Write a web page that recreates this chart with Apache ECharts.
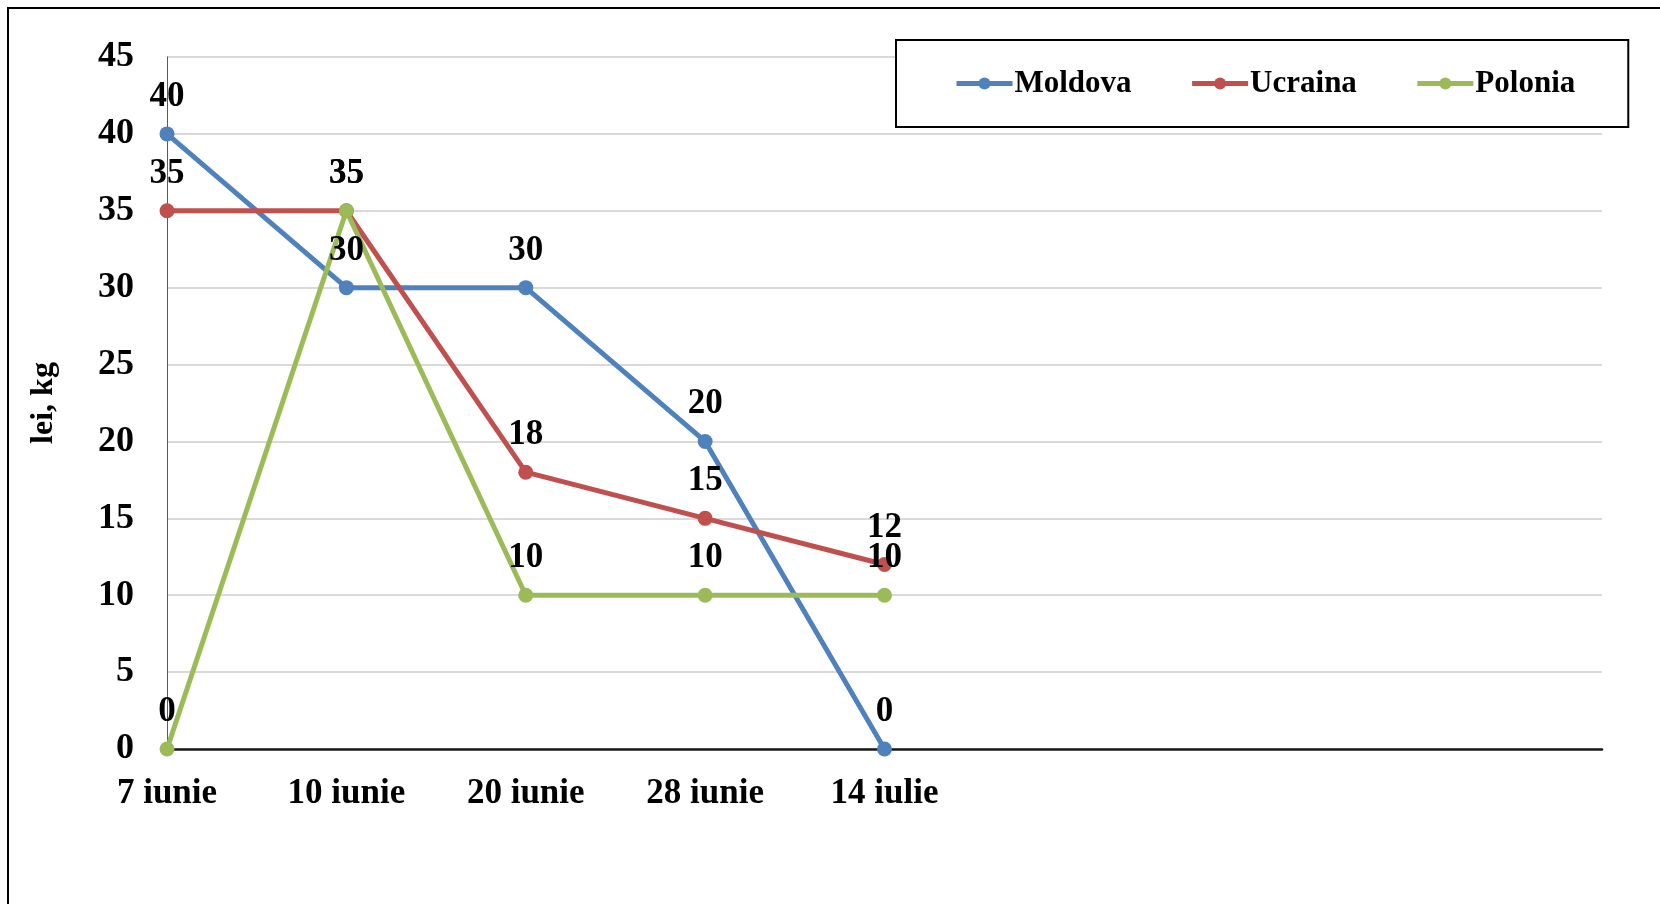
<!DOCTYPE html>
<html>
<head>
<meta charset="utf-8">
<script src="https://cdn.jsdelivr.net/npm/echarts@6/dist/echarts.min.js"></script>
<style>
html,body{margin:0;padding:0;background:#fff;}
#chart{width:1660px;height:904px;}
</style>
</head>
<body>
<div id="chart"></div>
<script>
var categories = ['7 iunie', '10 iunie', '20 iunie', '28 iunie', '14 iulie', '', '', '', ''];
var moldova = [40, 30, 30, 20, 0];
var ucraina = [35, 35, 18, 15, 12];
var polonia = [0, 35, 10, 10, 10];
var yTicks = { min: 0, max: 45, interval: 5 };
var seriesNames = ['Moldova', 'Ucraina', 'Polonia'];
var colors = ['#4F81BD', '#C0504D', '#9BBB59'];

var FONT = '"Liberation Serif", "Times New Roman", serif';
var chart = echarts.init(document.getElementById('chart'), null, {renderer: 'canvas'});

function mkSeries(name, data, color) {
  return {
    name: name,
    type: 'line',
    data: data,
    color: color,
    symbol: 'circle',
    symbolSize: 15,
    lineStyle: { width: 5, color: color },
    itemStyle: { color: color },
    label: {
      show: true,
      position: 'top',
      distance: 12,
      color: '#000',
      fontFamily: FONT,
      fontWeight: 'bold',
      fontSize: 35
    },
    animation: false
  };
}

chart.setOption({
  backgroundColor: '#fff',
  animation: false,
  grid: { left: 167, right: 58, top: 57, bottom: 155, containLabel: false },
  legend: {
    data: seriesNames,
    left: 896,
    top: 40,
    orient: 'horizontal',
    backgroundColor: '#fff',
    borderColor: '#000',
    borderWidth: 2,
    borderRadius: 0,
    padding: [26, 53, 26, 58],
    itemWidth: 56,
    itemHeight: 15,
    itemGap: 58,
    lineStyle: { width: 5 },
    textStyle: { color: '#000', fontFamily: FONT, fontWeight: 'bold', fontSize: 31, lineHeight: 35, padding: [0, 0, 0, -3] },
    z: 10
  },
  xAxis: {
    type: 'category',
    data: categories,
    boundaryGap: false,
    axisLine: { show: true, lineStyle: { color: '#1a1a1a', width: 2.5 } },
    axisTick: { show: false },
    splitLine: { show: false },
    axisLabel: {
      interval: 0,
      margin: 27,
      color: '#000',
      fontFamily: FONT,
      fontWeight: 'bold',
      fontSize: 35
    }
  },
  yAxis: {
    type: 'value',
    min: yTicks.min,
    max: yTicks.max,
    interval: yTicks.interval,
    name: 'lei, kg',
    nameLocation: 'middle',
    nameGap: 107,
    nameRotate: 90,
    nameTextStyle: { color: '#000', fontFamily: FONT, fontWeight: 'bold', fontSize: 32 },
    axisLine: { show: true, lineStyle: { color: '#595959', width: 1 } },
    axisTick: { show: false },
    splitLine: { show: true, lineStyle: { color: '#d9d9d9', width: 2 } },
    axisLabel: {
      margin: 33,
      color: '#000',
      fontFamily: FONT,
      fontWeight: 'bold',
      fontSize: 36
    }
  },
  graphic: [
    { type: 'line', shape: { x1: 7, y1: 8, x2: 1660, y2: 8 }, style: { stroke: '#000', lineWidth: 2 }, z: 100 },
    { type: 'line', shape: { x1: 8, y1: 7, x2: 8, y2: 904 }, style: { stroke: '#000', lineWidth: 2 }, z: 100 }
  ],
  series: [
    mkSeries(seriesNames[0], moldova, colors[0]),
    mkSeries(seriesNames[1], ucraina, colors[1]),
    mkSeries(seriesNames[2], polonia, colors[2])
  ]
});
</script>
</body>
</html>
